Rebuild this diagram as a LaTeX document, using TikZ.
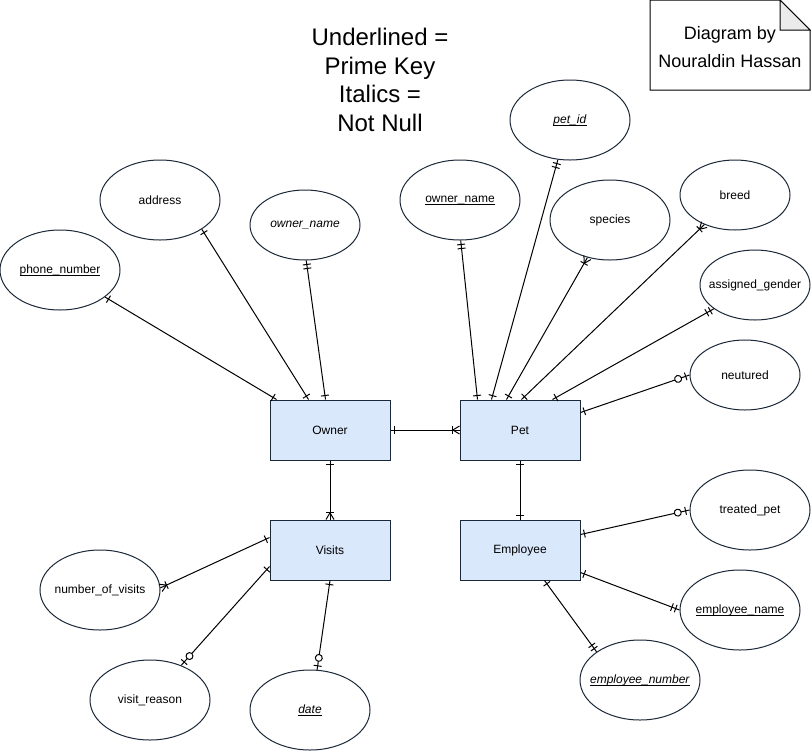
\documentclass[tikz,border=0pt]{standalone}
\usepackage{fontspec}
\setmainfont{Liberation Sans}
\usetikzlibrary{shapes.geometric,calc,decorations.markings}
\definecolor{entfill}{HTML}{DAE8FC}
\definecolor{strk}{HTML}{1B2838}
\definecolor{foldgray}{HTML}{EBEBEB}
\newcommand{\lbl}[1]{\makebox[0pt][c]{#1}}
\newcommand{\myuline}[1]{\setbox0=\hbox{#1}\rlap{\rule[-1.8pt]{\wd0}{0.55pt}}\box0}
\begin{document}
\begin{tikzpicture}[x=0.75pt,y=-0.75pt,
  entity/.style={rectangle, draw=strk, fill=entfill, line width=0.75pt, minimum width=90pt, minimum height=45pt, inner sep=0pt, font=\fontsize{9}{11}\selectfont},
  attr/.style={ellipse, draw=strk, fill=white, line width=0.75pt, inner sep=0pt, minimum width=90pt, minimum height=60pt, font=\fontsize{9}{11}\selectfont},
  attrs/.style={attr, minimum width=82.5pt, minimum height=52.5pt},
  rel/.style={draw=black, line width=0.75pt},
  sone/.style={postaction={decorate,decoration={markings,mark=at position 3pt with {\draw[line width=0.75pt] (0,-3pt)--(0,3pt);}}}},
  eone/.style={postaction={decorate,decoration={markings,mark=at position -3pt with {\draw[line width=0.75pt] (0,-3pt)--(0,3pt);}}}},
  etwo/.style={postaction={decorate,decoration={markings,mark=at position -3pt with {\draw[line width=0.75pt] (0,-3pt)--(0,3pt);},mark=at position -6pt with {\draw[line width=0.75pt] (0,-3pt)--(0,3pt);}}}},
  emany/.style={postaction={decorate,decoration={markings,mark=at position -5pt with {\draw[line width=0.75pt] (0,-3pt)--(0,3pt); \draw[line width=0.75pt] (0,0)--(5pt,3pt) (0,0)--(5pt,-3pt);}}}},
  ezero/.style={postaction={decorate,decoration={markings,mark=at position -3pt with {\draw[line width=0.75pt] (0,-3pt)--(0,3pt);},mark=at position -9pt with {\draw[line width=0.75pt,fill=white] (0,0) circle (2.6pt);}}}},
  notetext/.style={align=center, font=\fontsize{13.5}{21}\selectfont},
  titletext/.style={align=center, font=\fontsize{18}{21.5}\selectfont}
]
\useasboundingbox (0,0) rectangle (811,751);

% title
\node[titletext] (title) at (380,80) {Underlined =\\Prime Key\\Italics =\\Not Null};

% note
\draw[line width=0.75pt, fill=white] (650,0) -- (780,0) -- (810,30) -- (810,90) -- (650,90) -- cycle;
\draw[line width=0.75pt, fill=foldgray] (780,0) -- (780,30) -- (810,30) -- cycle;
\node[notetext] (note) at (730,47) {Diagram by\\Nouraldin Hassan};

% entities
\node[entity] (owner) at (330,430) {Owner};
\node[entity] (pet) at (520,430) {Pet};
\node[entity] (visits) at (330,550) {Visits};
\node[entity] (emp) at (520,550) {Employee};

% attributes
\node[attr] (phone) at (60,270) {\lbl{\myuline{phone\_number}}};
\node[attr] (addr) at (160,200) {\lbl{address}};
\node[attrs] (oname) at (305,225) {\lbl{\textit{owner\_name}}};
\node[attr] (pname) at (460,200) {\lbl{\myuline{owner\_name}}};
\node[attr] (petid) at (570,120) {\lbl{\myuline{\textit{pet\_id}}}};
\node[attr] (species) at (610,220) {\lbl{species}};
\node[attrs] (breed) at (735,195) {\lbl{breed}};
\node[attrs] (gender) at (755,285) {\lbl{assigned\_gender}};
\node[attrs] (neut) at (745,375) {\lbl{neutured}};
\node[attr] (treated) at (750,510) {\lbl{treated\_pet}};
\node[attr] (ename) at (740,610) {\lbl{\myuline{employee\_name}}};
\node[attr] (enum) at (640,680) {\lbl{\myuline{\textit{employee\_number}}}};
\node[attr] (nvis) at (100,590) {\lbl{number\_of\_visits}};
\node[attr] (vreason) at (150,700) {\lbl{visit\_reason}};
\node[attr] (date) at (310,710) {\lbl{\myuline{\textit{date}}}};

% connectors
\draw[rel,sone,eone] ($(owner.north west)+(7,0)$) -- (phone.-31);
\draw[rel,sone,eone] ($(owner.north west)+(39,0)$) -- (addr.-35);
\draw[rel,sone,etwo] ($(owner.north west)+(56,0)$) -- (oname.-88);
\draw[rel,sone,etwo] ($(pet.north west)+(18,0)$) -- (pname.-89);
\draw[rel,sone,etwo] ($(pet.north west)+(32,0)$) -- (petid.-107);
\draw[rel,sone,emany] ($(pet.north west)+(47,0)$) -- (species.-121);
\draw[rel,sone,emany] ($(pet.north west)+(62,0)$) -- (breed.-136);
\draw[rel,sone,etwo] ($(pet.north west)+(93,0)$) -- (gender.-150);
\draw[rel,sone,ezero] ($(pet.north east)+(0,13)$) -- (neut.180);
\draw[rel,sone,emany] (owner.east) -- (pet.west);
\draw[rel,sone,emany] (owner.south) -- (visits.north);
\draw[rel,sone,eone] (pet.south) -- (emp.north);
\draw[rel,sone,emany] ($(visits.north west)+(0,18)$) -- (nvis.2);
\draw[rel,sone,ezero] ($(visits.north west)+(0,47)$) -- (vreason.48);
\draw[rel,sone,ezero] (visits.south) -- (date.80);
\draw[rel,sone,ezero] ($(emp.north east)+(0,15)$) -- (treated.180);
\draw[rel,sone,etwo] ($(emp.north east)+(0,53)$) -- (ename.180);
\draw[rel,sone,etwo] ($(emp.south west)+(85,0)$) -- (enum.147);
\end{tikzpicture}
\end{document}
